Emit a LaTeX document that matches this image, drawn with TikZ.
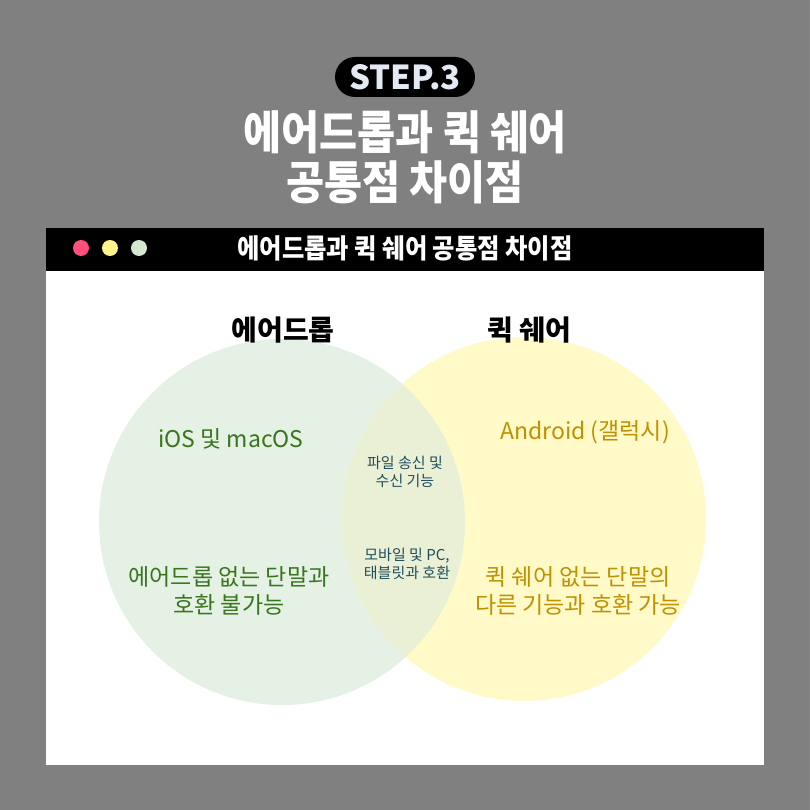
\documentclass[tikz,border=0pt]{standalone}
\usepackage{fontspec}
\setmainfont{Noto Sans CJK KR}
\newfontfamily\headfont{Noto Sans CJK KR}[FakeStretch=0.9]

\definecolor{bggrey}{RGB}{128,128,128}
\definecolor{airgreen}{RGB}{229,241,228}
\definecolor{quickyellow}{RGB}{255,250,200}
\definecolor{lensmix}{RGB}{234,240,213}
\definecolor{airtext}{RGB}{56,118,29}
\definecolor{quicktext}{RGB}{191,144,0}
\definecolor{lenstext}{RGB}{31,78,95}
\definecolor{steptext}{RGB}{228,234,244}
\definecolor{dotpink}{RGB}{255,79,123}
\definecolor{dotyellow}{RGB}{255,243,138}
\definecolor{dotgreen}{RGB}{212,232,208}

\tikzset{
  setlabel/.style={text=black, font=\bfseries\fontsize{28}{28}\selectfont},
  airitem/.style={text=airtext, align=center, font=\fontsize{23}{28}\selectfont},
  quickitem/.style={text=quicktext, align=center, font=\fontsize{23}{28}\selectfont},
  lensitem/.style={text=lenstext, align=center, font=\fontsize{15}{18}\selectfont},
  winddot/.style={draw=none, circle, minimum size=16pt}
}

\begin{document}
\begin{tikzpicture}[x=1pt, y=-1pt, every node/.style={inner sep=0pt}]
        \fill[bggrey] (0,0) rectangle (810,810);
        % badge and title
        \node[fill=black, rounded corners=20pt, minimum width=140pt, minimum height=40pt,
              text=steptext, font=\bfseries\fontsize{33}{33}\selectfont] (step) at (405,77) {STEP.3};
        \node[text=white, align=center, font=\headfont\bfseries\fontsize{46}{50}\selectfont] (title) at (405,157)
              {에어드롭과 퀵 쉐어\\공통점 차이점};
        % window
        \fill[white] (46,271) rectangle (764,765);
        \fill[black] (46,228) rectangle (764,271);
        \node[winddot, fill=dotpink] (dot1) at (81,248) {};
        \node[winddot, fill=dotyellow] (dot2) at (110,248) {};
        \node[winddot, fill=dotgreen] (dot3) at (139,248) {};
        \node[text=white, font=\headfont\bfseries\fontsize{27}{27}\selectfont] (head) at (405,248)
              {에어드롭과 퀵 쉐어 공통점 차이점};
        % venn
        \fill[airgreen] (282,522) circle (183);
        \fill[quickyellow] (524,519) circle (182);
        \begin{scope}
          \clip (282,522) circle (183);
          \fill[lensmix] (524,519) circle (182);
        \end{scope}
        \node[setlabel] (airlabel) at (283,330) {에어드롭};
        \node[setlabel] (quicklabel) at (529,330) {퀵 쉐어};
        \node[airitem] (airos) at (231,439) {iOS 및 macOS};
        \node[airitem] (airdev) at (229,591) {에어드롭 없는 단말과\\호환 불가능};
        \node[quickitem] (quickos) at (585,432) {Android (갤럭시)};
        \node[quickitem] (quickdev) at (578,591) {퀵 쉐어 없는 단말의\\다른 기능과 호환 가능};
        \node[lensitem] (lensfile) at (405,472) {파일 송신 및\\수신 기능};
        \node[lensitem] (lensdev) at (407,564) {모바일 및 PC,\\태블릿과 호환};
\end{tikzpicture}
\end{document}
